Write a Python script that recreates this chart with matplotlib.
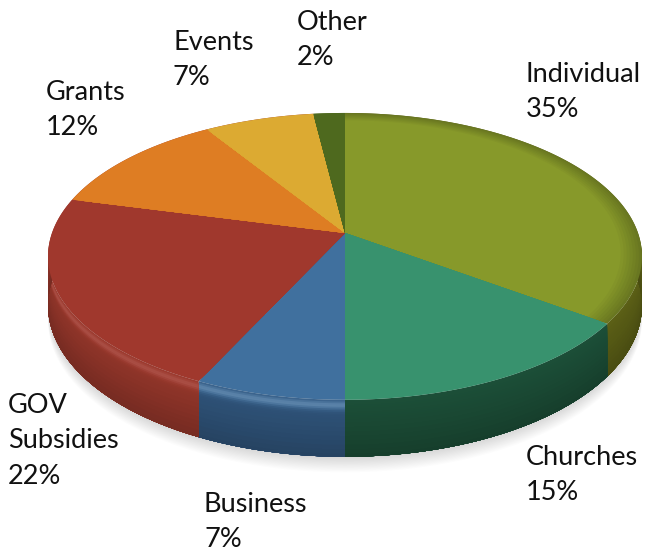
import numpy as np
import matplotlib
matplotlib.use('Agg')
import matplotlib.pyplot as plt
from matplotlib.patches import Polygon

plt.rcParams['font.family'] = ['Lato', 'DejaVu Sans']

categories = ['Individual', 'Churches', 'Business', 'GOV\nSubsidies', 'Grants', 'Events', 'Other']
values = [35, 15, 7, 22, 12, 7, 2]
colors = ['#87992a', '#38926e', '#40709e', '#a0382d', '#de7d23', '#dcaa32', '#4e691e']
wall_colors = ['#5c6016', '#1c4f38', '#30557c', '#96372b', '#a0382d', '#a0382d', '#4e691e']
rim_glow = [0.0, 0.0, 0.30, 0.22, 0.0, 0.0, 0.0]
rim_dark = [0.22, 0.0, 0.0, 0.0, 0.0, 0.0, 0.0]
label_x = [526, 526, 204, 8, 46, 173, 297]
label_y = [92, 475, 522, 441, 110, 60, 40]

# pie geometry in pixels, simple perspective so the front looks bigger
cx, cy = 345, 233
rx, ry = 293, 139.6
k = 0.163
depth = 47.7


def project(theta, r=1.0, z=0.0):
    u = r * np.sin(np.radians(theta))
    v = -r * np.cos(np.radians(theta))
    w = 1 - k * v
    return cx + rx * u / w, cy + (ry * v + depth * z) / w


def mix(rgb, other, f):
    return tuple(np.array(rgb) * (1 - f) + np.array(other) * f)


fig = plt.figure(figsize=(6.46, 5.54), dpi=100)
ax = fig.add_axes([0, 0, 1, 1])
ax.set_xlim(0, 646)
ax.set_ylim(554, 0)
ax.axis('off')

# soft shadow under the front edge
ts = np.linspace(95, 285, 200)
for i in range(14):
    sx, sy = project(ts, 1.0, 1.0)
    sy = sy + i * 1.2
    tx, ty = project(ts[::-1], 0.9, 0.0)
    ax.add_patch(Polygon(np.r_[np.c_[sx, sy], np.c_[tx, ty]], fc='#000000', ec='none',
                         alpha=0.013, zorder=1))

edges = np.cumsum([0] + values) / sum(values) * 360

# each band is painted over the one before it, so no seams
wall_z = np.r_[np.linspace(0, 0.34, 12), np.linspace(0.4, 0.95, 8)]
top_r = np.linspace(0.93, 1.0, 8)[::-1]

for start, end, col, wall, glow, dark in zip(edges[:-1], edges[1:], colors, wall_colors, rim_glow, rim_dark):
    base = matplotlib.colors.to_rgb(col)
    wall_rgb = matplotlib.colors.to_rgb(wall)
    th = np.linspace(start, end, int(end - start) * 2 + 2)

    # wall of the slice, darker toward the bottom and bright just under the rim
    bx, by = project(th[::-1], 1, 1)
    for z in wall_z:
        tx, ty = project(th, 1, z)
        c = mix(wall_rgb, (0, 0, 0), 0.22 * z)
        c = mix(c, base, min(1, 1.6 * glow / 0.3) * np.exp(-((z - 0.08) / 0.09) ** 2) * 0.9)
        c = mix(c, (1, 1, 1), glow * 0.5 * np.exp(-((z - 0.08) / 0.06) ** 2))
        ax.add_patch(Polygon(np.r_[np.c_[tx, ty], np.c_[bx, by]], fc=c, ec='none', zorder=2))

    # top of the slice
    for r in top_r:
        tx, ty = project(th, r)
        f = dark * (r - 0.93) / 0.07
        c = mix(base, (0, 0, 0), f)
        ax.add_patch(Polygon(np.r_[[[cx, cy]], np.c_[tx, ty]], fc=c, ec='none', zorder=3))

for name, val, x, y in zip(categories, values, label_x, label_y):
    ax.text(x, y, '%s\n%d%%' % (name, val), ha='left', va='center', fontsize=19.5,
            color='#111111', linespacing=1.52, zorder=5)

fig.savefig('out.png', dpi=100)
